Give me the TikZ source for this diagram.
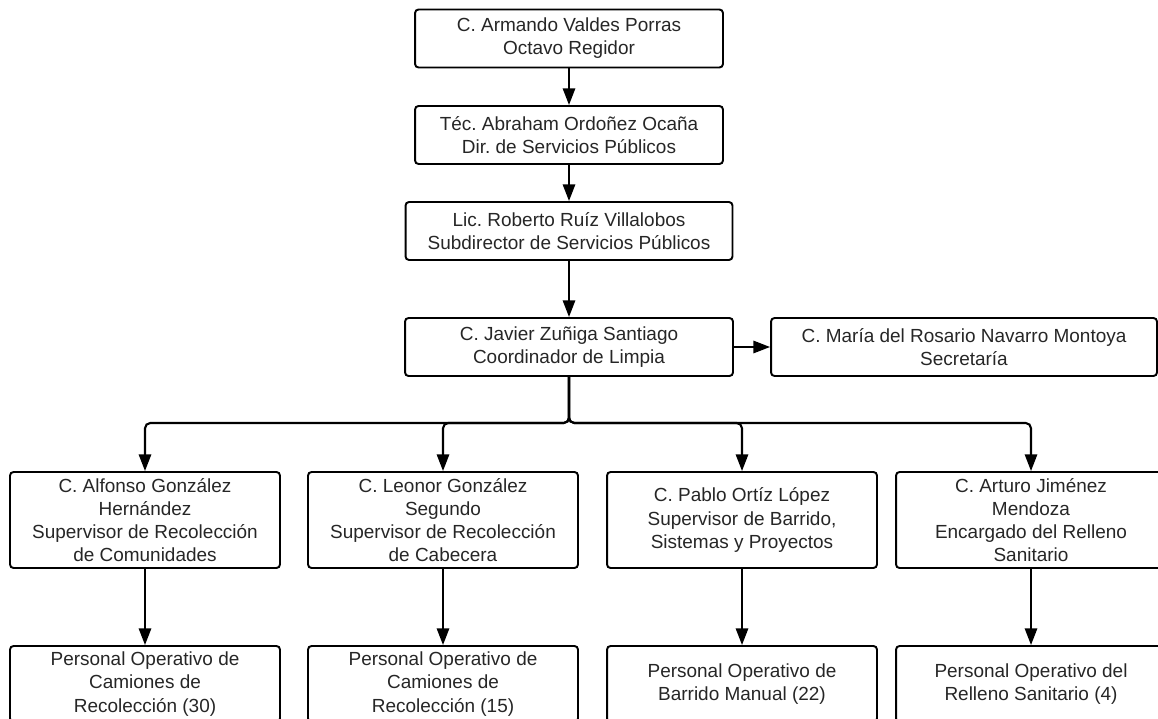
\documentclass[tikz,border=0pt]{standalone}
\usepackage{fontspec}
\setmainfont{Liberation Sans}
\frenchspacing
\usetikzlibrary{shapes,arrows.meta}
\tikzstyle{line} = [draw, line width=1.2pt, -{Triangle[length=9.5pt,width=7pt]}]
\tikzstyle{cargo} = [draw, line width=1.1pt, rounded corners=2pt, align=center, inner sep=0pt, text=black!85, font=\fontsize{10.8}{13.2}\selectfont]
\tikzstyle{mando} = [cargo, minimum height=1.16cm]
\tikzstyle{jefe} = [cargo, minimum width=5.4cm, minimum height=1.92cm]
\tikzstyle{personal} = [cargo, minimum width=5.4cm, minimum height=1.52cm]

\begin{document}
\begin{tikzpicture}[x=0.02cm,y=-0.02cm]
		%\draw[help lines] (0,0) grid[step=50] (1158,719);
		\useasboundingbox (0,0) rectangle (1158,719);
		\node[mando, minimum width=6.16cm] (regidor) at (569,38.5) {C. Armando Valdes Porras\\Octavo Regidor};
		\node[mando, minimum width=6.16cm] (director) at (569,135) {Téc. Abraham Ordoñez Ocaña\\Dir. de Servicios Públicos};
		\node[mando, minimum width=6.54cm] (subdir) at (569,231) {Lic. Roberto Ruíz Villalobos\\Subdirector de Servicios Públicos};
		\node[mando, minimum width=6.56cm] (coord) at (569,347) {C. Javier Zuñiga Santiago\\Coordinador de Limpia};
		\node[mando, minimum width=7.72cm] (secre) at (964,347) {C. María del Rosario Navarro Montoya\\Secretaría};
		\coordinate (fork) at (569,423);
		\node[jefe] (sup1) at (145,520) {C. Alfonso González\\Hernández\\Supervisor de Recolección\\de Comunidades};
		\node[jefe] (sup2) at (443,520) {C. Leonor González\\Segundo\\Supervisor de Recolección\\de Cabecera};
		\node[jefe] (sup3) at (742,520) {C. Pablo Ortíz López\\Supervisor de Barrido,\\Sistemas y Proyectos};
		\node[jefe] (sup4) at (1031,520) {C. Arturo Jiménez\\Mendoza\\Encargado del Relleno\\Sanitario};
		\node[personal] (op1) at (145,684) {Personal Operativo de\\Camiones de\\Recolección (30)};
		\node[personal] (op2) at (443,684) {Personal Operativo de\\Camiones de\\Recolección (15)};
		\node[personal] (op3) at (742,684) {Personal Operativo de\\Barrido Manual (22)};
		\node[personal] (op4) at (1031,684) {Personal Operativo del\\Relleno Sanitario (4)};
		\draw[line] (regidor) -- (director);
		\draw[line] (director) -- (subdir);
		\draw[line] (subdir) -- (coord);
		\draw[line] (coord) -- (secre);
		\foreach \n in {1,...,4}
			\draw[line, rounded corners=3pt] (coord.south) -- (fork) -| (sup\n.north);
		\foreach \n in {1,...,4}
			\draw[line] (sup\n) -- (op\n);
\end{tikzpicture}
\end{document}
